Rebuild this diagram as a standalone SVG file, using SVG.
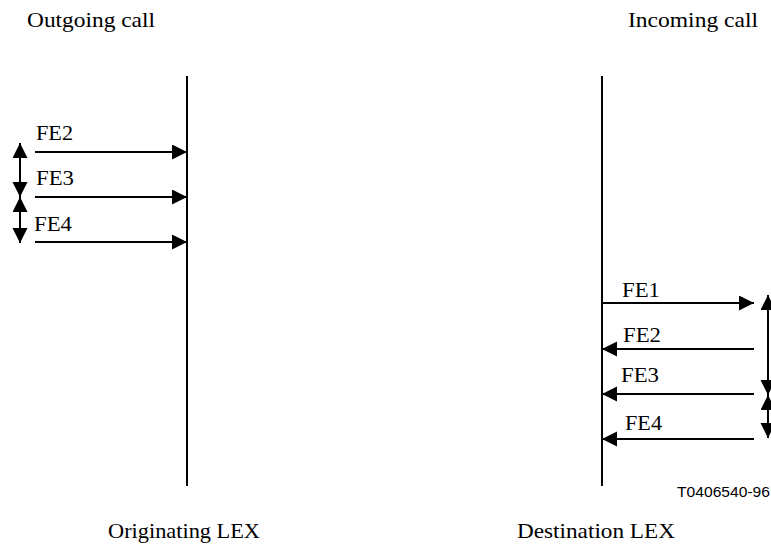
<svg xmlns="http://www.w3.org/2000/svg" width="771" height="547" viewBox="0 0 771 547">
  <style>
    .lbl { font-family: "Liberation Serif", "Times New Roman", serif; font-size: 21.5px; fill: #000; }
    .fe { font-family: "Liberation Serif", "Times New Roman", serif; font-size: 21px; fill: #000; }
    .ref { font-family: "Liberation Sans", Arial, sans-serif; font-size: 15.5px; fill: #000; }
    .life { stroke: #000; stroke-width: 2; fill: none; }
    .msg { stroke: #000; stroke-width: 2; fill: none; marker-end: url(#head); }
    .span { stroke: #000; stroke-width: 2; fill: none; marker-start: url(#head); marker-end: url(#head); }
  </style>
  <defs>
    <marker id="head" markerUnits="userSpaceOnUse" markerWidth="16" markerHeight="16"
            refX="15" refY="7.5" orient="auto-start-reverse">
      <path d="M0,0 L15,7.5 L0,15 Z" fill="#000"/>
    </marker>
  </defs>
  <rect width="771" height="547" fill="#fff"/>

  <!-- Originating local exchange -->
  <g id="originating-lex">
    <text class="lbl" x="27" y="27" textLength="128" lengthAdjust="spacingAndGlyphs">Outgoing call</text>
    <line class="life" x1="187" y1="76" x2="187" y2="486"/>
    <text class="lbl" x="108" y="538" textLength="152" lengthAdjust="spacingAndGlyphs">Originating LEX</text>
  </g>

  <!-- Destination local exchange -->
  <g id="destination-lex">
    <text class="lbl" x="628" y="27" textLength="130" lengthAdjust="spacingAndGlyphs">Incoming call</text>
    <line class="life" x1="602" y1="76" x2="602" y2="486"/>
    <text class="lbl" x="517" y="538" textLength="158" lengthAdjust="spacingAndGlyphs">Destination LEX</text>
  </g>

  <text class="ref" x="677" y="497" textLength="93" lengthAdjust="spacingAndGlyphs">T0406540-96</text>

  <!-- Flows and timing spans -->
  <g id="connectors">
    <!-- outgoing side -->
    <line class="msg" x1="35" y1="152" x2="187" y2="152"/>
    <line class="msg" x1="35" y1="197" x2="187" y2="197"/>
    <line class="msg" x1="35" y1="242" x2="187" y2="242"/>
    <line class="span" x1="20" y1="143" x2="20" y2="197"/>
    <line class="span" x1="20" y1="197" x2="20" y2="243"/>
    <text class="fe" x="36" y="140" textLength="37" lengthAdjust="spacingAndGlyphs">FE2</text>
    <text class="fe" x="36" y="185" textLength="38" lengthAdjust="spacingAndGlyphs">FE3</text>
    <text class="fe" x="34" y="231" textLength="38" lengthAdjust="spacingAndGlyphs">FE4</text>

    <!-- incoming side -->
    <line class="msg" x1="602" y1="303" x2="754" y2="303"/>
    <line class="msg" x1="754" y1="349" x2="602" y2="349"/>
    <line class="msg" x1="754" y1="394" x2="602" y2="394"/>
    <line class="msg" x1="754" y1="439" x2="602" y2="439"/>
    <line class="span" x1="768" y1="295" x2="768" y2="395"/>
    <line class="span" x1="768" y1="395" x2="768" y2="438"/>
    <text class="fe" x="622" y="297" textLength="38" lengthAdjust="spacingAndGlyphs">FE1</text>
    <text class="fe" x="623" y="342" textLength="38" lengthAdjust="spacingAndGlyphs">FE2</text>
    <text class="fe" x="621" y="382" textLength="38" lengthAdjust="spacingAndGlyphs">FE3</text>
    <text class="fe" x="625" y="430" textLength="37" lengthAdjust="spacingAndGlyphs">FE4</text>
  </g>
</svg>
